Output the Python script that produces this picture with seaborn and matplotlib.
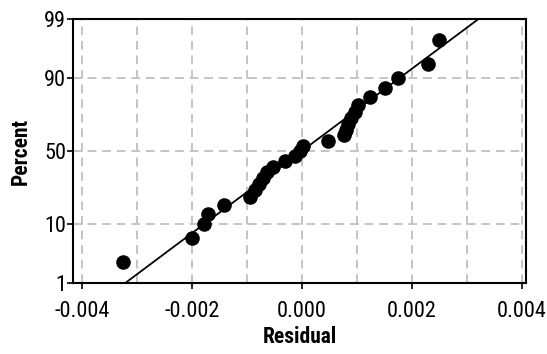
import numpy as np
import pandas as pd
import matplotlib
matplotlib.use("Agg")
import matplotlib.pyplot as plt
from matplotlib import font_manager
import seaborn as sns
from statistics import NormalDist

# ---- data ----
residuals = [-0.003255, -0.002000, -0.001782, -0.001709, -0.001418, -0.000945,
             -0.000855, -0.000782, -0.000709, -0.000636, -0.000527, -0.000309,
             -0.000127, -0.000036, 0.000018, 0.000473, 0.000764, 0.000800,
             0.000836, 0.000891, 0.000964, 0.001018, 0.001236, 0.001509,
             0.001745, 0.002291, 0.002491]
percent_ticks = [1, 10, 50, 90, 99]
x_ticks = [-0.004, -0.002, 0.000, 0.002, 0.004]
x_tick_labels = ["-0.004", "-0.002", "0.000", "0.002", "0.004"]
x_grid = [-0.004, -0.003, -0.002, -0.001, 0.0, 0.001, 0.002, 0.003, 0.004]

nd = NormalDist()
res = np.sort(np.array(residuals))
n = len(res)
ranks = np.arange(1, n + 1)
pp = (ranks - 0.3) / (n + 0.4)          # median ranks (Benard)
z = np.array([nd.inv_cdf(p) for p in pp])
pts = pd.DataFrame({"Residual": res, "z": z})

mu = res.mean()
sd = res.std(ddof=1)
zl = np.linspace(nd.inv_cdf(0.01), nd.inv_cdf(0.995), 50)
fit = pd.DataFrame({"Residual": mu + sd * zl, "z": zl})

sns.set_style("white")

# choose a condensed face if one is installed
installed = {f.name for f in font_manager.fontManager.ttflist}
condensed = [c for c in ["Liberation Sans Narrow", "DejaVu Sans Condensed",
                         "Roboto Condensed", "Open Sans Condensed"] if c in installed]
if condensed:
    fam = condensed[0]
    tick_size, label_size = 16, 15.5
else:
    fam = "Roboto" if "Roboto" in installed else "DejaVu Sans"
    tick_size, label_size = 13, 13
plt.rcParams["font.family"] = [fam, "DejaVu Sans"]
plt.rcParams["text.color"] = "black"
plt.rcParams["axes.labelcolor"] = "black"
plt.rcParams["xtick.color"] = "black"
plt.rcParams["ytick.color"] = "black"

fig = plt.figure(figsize=(5.47, 3.54), dpi=100)
ax = fig.add_axes([0.1335, 0.2006, 0.8281, 0.7457])

for g in x_grid:
    ax.axvline(g, color="#c4c4c4", lw=1.4, ls=(0, (4.5, 3)), zorder=0)
for p in [10, 50, 90]:
    ax.axhline(nd.inv_cdf(p / 100), color="#c4c4c4", lw=1.4, ls=(0, (4.5, 3)), zorder=0)

sns.lineplot(data=fit, x="Residual", y="z", color="black", lw=1.3, ax=ax,
             sort=False, zorder=2)
sns.scatterplot(data=pts, x="Residual", y="z", color="black", s=110,
                edgecolor="black", linewidth=0, ax=ax, zorder=3)

ax.set_xlim(-0.00416, 0.00407)
ax.set_ylim(nd.inv_cdf(0.01), nd.inv_cdf(0.99))
ax.set_xticks(x_ticks)
ax.set_xticklabels(x_tick_labels)
ax.set_yticks([nd.inv_cdf(p / 100) for p in percent_ticks])
ax.set_yticklabels([str(p) for p in percent_ticks])
ax.tick_params(axis="both", direction="out", length=4, width=1.2, color="black",
               labelsize=tick_size, labelcolor="black")
ax.tick_params(axis="x", bottom=True, pad=9)
ax.tick_params(axis="y", left=True, pad=1)

for s in ax.spines.values():
    s.set_color("black")
    s.set_linewidth(1.5)

ax.set_xlabel("Residual", fontsize=label_size, fontweight="bold", labelpad=3,
              color="black")
ax.set_ylabel("Percent", fontsize=label_size, fontweight="bold", labelpad=9,
              color="black")

fig.savefig("out.png", dpi=100)
